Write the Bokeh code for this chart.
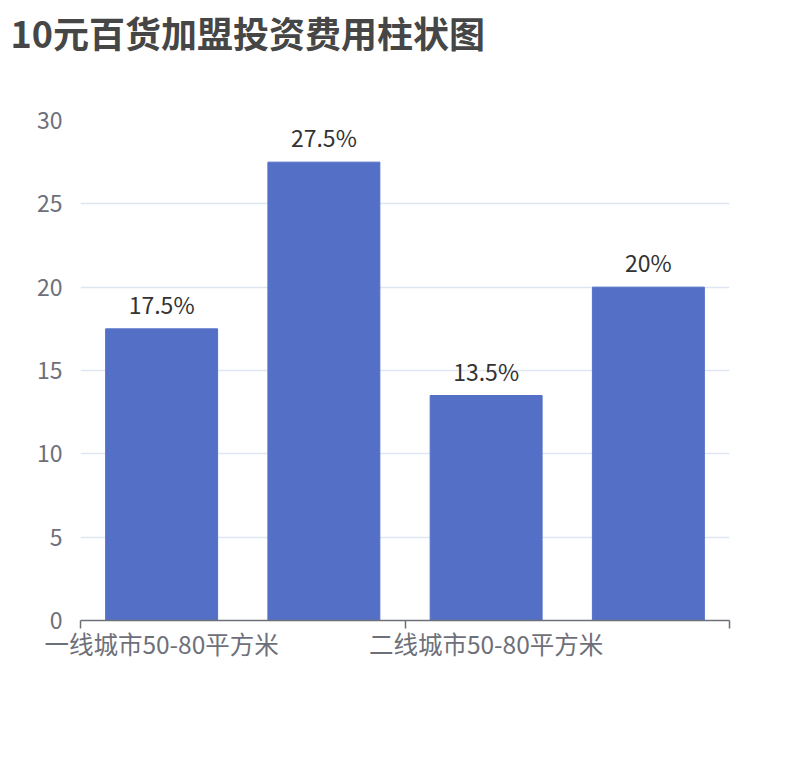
from bokeh.plotting import figure
from bokeh.models import ColumnDataSource, FixedTicker, LabelSet, Range1d, Title
from bokeh.core.properties import value
from bokeh.embed import file_html
from bokeh.resources import INLINE

# data
tick_labels = ["一线城市50-80平方米", "", "二线城市50-80平方米", ""]
values = [17.5, 27.5, 13.5, 20]
value_labels = ["17.5%", "27.5%", "13.5%", "20%"]

FONT = "Noto Sans CJK SC"
BAR = "#5470c6"
AXIS = "#6e7079"

xs = [i + 0.5 for i in range(len(values))]
source = ColumnDataSource(data=dict(x=xs, top=values, label=value_labels))

p = figure(
    width=810,
    height=750,
    x_range=Range1d(0, len(values)),
    y_range=Range1d(0, 30),
    toolbar_location=None,
    output_backend="svg",
    title="10元百货加盟投资费用柱状图",
    min_border_left=80,
    min_border_right=81,
    min_border_top=120,
    min_border_bottom=130,
)
p.outline_line_color = None
p.background_fill_color = "white"

p.title.text_font = FONT
p.title.text_font_size = "36px"
p.title.text_font_style = "bold"
p.title.text_color = "#464646"
p.title.vertical_align = "top"
p.title.offset = -70
p.title.standoff = 6

# blank spacer between the frame and the title, pushes the title to the top
p.add_layout(Title(text=" ", text_font_size="1px", standoff=55), "above")

p.vbar(x="x", top="top", width=0.69, color=BAR, source=source)

labels = LabelSet(x="x", y="top", text="label", source=source,
                  text_align="center", text_baseline="alphabetic", y_offset=15,
                  text_font=value(FONT), text_font_size=value("23px"),
                  text_color="#333333")
p.add_layout(labels)

# y axis: labels only
p.yaxis.ticker = FixedTicker(ticks=[0, 5, 10, 15, 20, 25, 30])
p.yaxis.axis_line_color = None
p.yaxis.major_tick_line_color = None
p.yaxis.minor_tick_line_color = None
p.yaxis.major_label_text_font = FONT
p.yaxis.major_label_text_font_size = "23px"
p.yaxis.major_label_text_color = AXIS
p.yaxis.major_label_standoff = 12
p.ygrid.grid_line_color = "#e0e6f1"
p.ygrid.grid_line_width = 1.5

# x axis: labels on every other category, ticks on boundaries
label_pos = [xs[i] for i, t in enumerate(tick_labels) if t]
p.xaxis.ticker = FixedTicker(ticks=label_pos, minor_ticks=[0, 2, 4])
p.xaxis.major_label_overrides = {xs[i]: t for i, t in enumerate(tick_labels) if t}
p.xaxis.major_tick_line_color = None
p.xaxis.major_tick_in = 0
p.xaxis.major_tick_out = 0
p.xaxis.minor_tick_in = 0
p.xaxis.minor_tick_out = 8
p.xaxis.minor_tick_line_color = AXIS
p.xaxis.minor_tick_line_width = 1.5
p.xaxis.axis_line_color = AXIS
p.xaxis.axis_line_width = 1.5
p.xaxis.major_label_text_font = FONT
p.xaxis.major_label_text_font_size = "24.5px"
p.xaxis.major_label_text_color = AXIS
p.xaxis.major_label_standoff = -3
p.xgrid.grid_line_color = None

open("out.html", "w").write(file_html(p, INLINE))
